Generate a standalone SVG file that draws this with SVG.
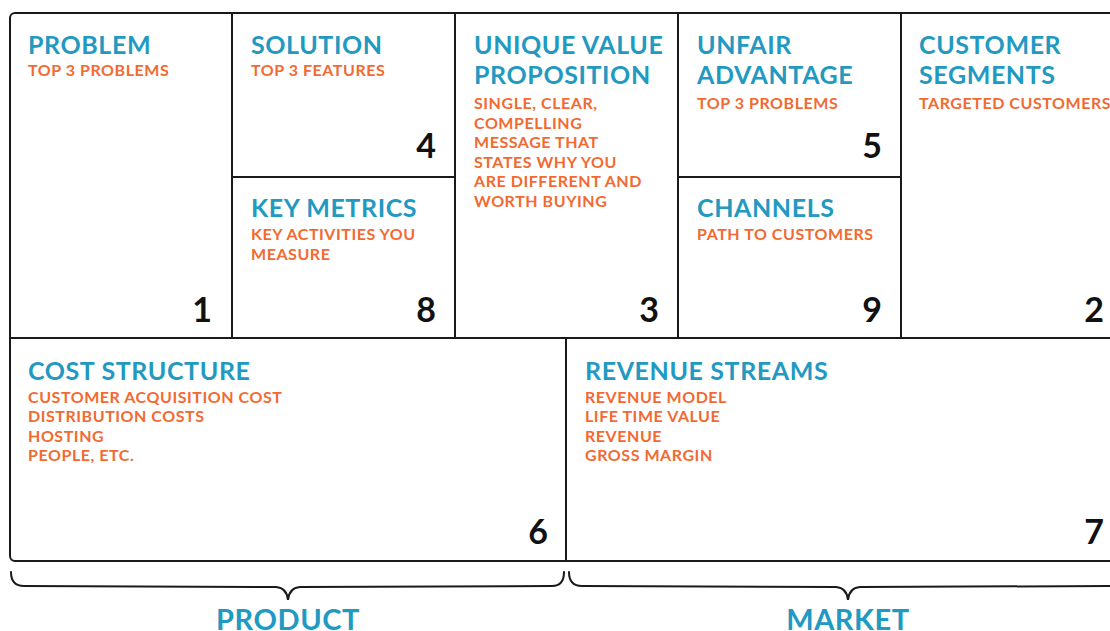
<svg xmlns="http://www.w3.org/2000/svg" width="1110" height="631" viewBox="0 0 1110 631">
<style>
.ln{fill:none;stroke:#1a1a1a;stroke-width:2}
.t{font-family:Lato,"Open Sans",sans-serif;font-weight:700;fill:#2299c1;font-size:25px;letter-spacing:0.6px}
.s{font-family:Lato,"Open Sans",sans-serif;font-weight:700;fill:#f26a31;font-size:16px;letter-spacing:0.55px}
.n{font-family:Lato,"Open Sans",sans-serif;font-weight:700;fill:#111;font-size:34px;text-anchor:end}
.b{font-family:Lato,"Open Sans",sans-serif;font-weight:700;fill:#2299c1;font-size:29px;letter-spacing:0.6px;text-anchor:middle}
.br{fill:none;stroke:#1a1a1a;stroke-width:2;stroke-linecap:round}
</style>
<rect width="1110" height="631" fill="#fff"/>
<g id="frame">
<rect class="ln" x="10" y="13" width="1115" height="548" rx="5"/>
</g>
<g id="connectors">
<line class="ln" x1="10" y1="338" x2="1125" y2="338"/>
<line class="ln" x1="232" y1="13" x2="232" y2="338"/>
<line class="ln" x1="455" y1="13" x2="455" y2="338"/>
<line class="ln" x1="678" y1="13" x2="678" y2="338"/>
<line class="ln" x1="901" y1="13" x2="901" y2="338"/>
<line class="ln" x1="232" y1="177" x2="455" y2="177"/>
<line class="ln" x1="678" y1="177" x2="901" y2="177"/>
<line class="ln" x1="566" y1="338" x2="566" y2="561"/>
</g>
<g id="problem">
<text class="t" x="28" y="54">PROBLEM</text>
<text class="s" x="28" y="76">TOP 3 PROBLEMS</text>
<text class="n" x="212" y="322">1</text>
</g>
<g id="solution">
<text class="t" x="251" y="54">SOLUTION</text>
<text class="s" x="251" y="76">TOP 3 FEATURES</text>
<text class="n" x="436" y="158">4</text>
</g>
<g id="key-metrics">
<text class="t" x="251" y="217">KEY METRICS</text>
<text class="s" x="251" y="240">KEY ACTIVITIES YOU</text>
<text class="s" x="251" y="260">MEASURE</text>
<text class="n" x="436" y="322">8</text>
</g>
<g id="uvp">
<text class="t" x="474" y="54">UNIQUE VALUE</text>
<text class="t" x="474" y="84">PROPOSITION</text>
<text class="s" x="474" y="109">SINGLE, CLEAR,</text>
<text class="s" x="474" y="129">COMPELLING</text>
<text class="s" x="474" y="148">MESSAGE THAT</text>
<text class="s" x="474" y="168">STATES WHY YOU</text>
<text class="s" x="474" y="187">ARE DIFFERENT AND</text>
<text class="s" x="474" y="207">WORTH BUYING</text>
<text class="n" x="659" y="322">3</text>
</g>
<g id="unfair-advantage">
<text class="t" x="697" y="54">UNFAIR</text>
<text class="t" x="697" y="84">ADVANTAGE</text>
<text class="s" x="697" y="109">TOP 3 PROBLEMS</text>
<text class="n" x="882" y="158">5</text>
</g>
<g id="channels">
<text class="t" x="697" y="217">CHANNELS</text>
<text class="s" x="697" y="240">PATH TO CUSTOMERS</text>
<text class="n" x="882" y="322">9</text>
</g>
<g id="customer-segments">
<text class="t" x="919" y="54">CUSTOMER</text>
<text class="t" x="919" y="84">SEGMENTS</text>
<text class="s" x="919" y="109">TARGETED CUSTOMERS</text>
<text class="n" x="1104" y="322">2</text>
</g>
<g id="cost-structure">
<text class="t" x="28" y="380">COST STRUCTURE</text>
<text class="s" x="28" y="403">CUSTOMER ACQUISITION COST</text>
<text class="s" x="28" y="422">DISTRIBUTION COSTS</text>
<text class="s" x="28" y="442">HOSTING</text>
<text class="s" x="28" y="461">PEOPLE, ETC.</text>
<text class="n" x="548" y="544">6</text>
</g>
<g id="revenue-streams">
<text class="t" x="585" y="380">REVENUE STREAMS</text>
<text class="s" x="585" y="403">REVENUE MODEL</text>
<text class="s" x="585" y="422">LIFE TIME VALUE</text>
<text class="s" x="585" y="442">REVENUE</text>
<text class="s" x="585" y="461">GROSS MARGIN</text>
<text class="n" x="1104" y="544">7</text>
</g>
<g id="product">
<path class="br" d="M11,572 Q11,586 24,586 L276,587 Q287,588 288,600 Q289,588 300,587 L552,586 Q564,586 564,572"/>
<text class="b" x="288" y="630">PRODUCT</text>
</g>
<g id="market">
<path class="br" d="M569,572 Q569,586 582,586 L836,587 Q847,588 848,600 Q849,588 860,587 L1112,586"/>
<text class="b" x="848" y="630">MARKET</text>
</g>
</svg>
